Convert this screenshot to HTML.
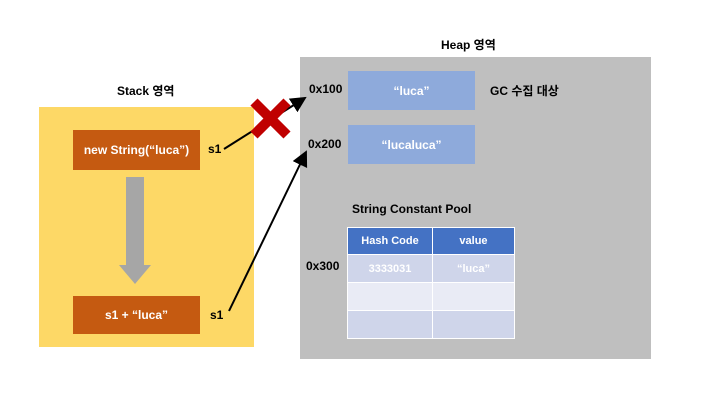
<!DOCTYPE html>
<html><head><meta charset="utf-8"><style>
body{margin:0;width:720px;height:405px;background:#fff;position:relative;overflow:hidden;font-family:"Liberation Sans","Noto Sans CJK KR",sans-serif;font-weight:bold}
div{position:absolute}
.t{font-size:12px;color:#000;white-space:nowrap}
.ob{background:#c55a11;color:#fff;font-size:12px;display:flex;align-items:center;justify-content:center}
.bb{background:#8eaadb;color:#fff;font-size:12px;display:flex;align-items:center;justify-content:center}
</style></head><body>
<div style="left:39px;top:107px;width:215px;height:240px;background:#fdd866"></div>
<div style="left:300px;top:57px;width:351px;height:302px;background:#bfbfbf"></div>
<div class="t" style="left:117px;top:82px">Stack 영역</div>
<div class="t" style="left:441px;top:36px">Heap 영역</div>
<div class="ob" style="left:73px;top:130px;width:127px;height:40px">new String(“luca”)</div>
<div class="ob" style="left:73px;top:296px;width:127px;height:38px">s1 + “luca”</div>
<div class="t" style="left:208px;top:142px">s1</div>
<div class="t" style="left:210px;top:308px">s1</div>
<div style="left:126px;top:177px;width:18px;height:88px;background:#a6a6a6"></div>
<div style="left:119px;top:265px;width:0;height:0;border-left:16px solid transparent;border-right:16px solid transparent;border-top:19px solid #a6a6a6"></div>
<div class="t" style="left:309px;top:82px">0x100</div>
<div class="t" style="left:308px;top:137px">0x200</div>
<div class="t" style="left:306px;top:259px">0x300</div>
<div class="bb" style="left:348px;top:71px;width:127px;height:39px">“luca”</div>
<div class="bb" style="left:348px;top:125px;width:127px;height:39px">“lucaluca”</div>
<div class="t" style="left:490px;top:82px">GC 수집 대상</div>
<div class="t" style="left:352px;top:202px">String Constant Pool</div>
<table style="position:absolute;left:347px;top:227px;width:168px;border-collapse:collapse;font-size:11px;color:#fff;text-align:center">
<tr style="height:27px;background:#4472c4"><td style="border:1px solid #fff;width:82px">Hash Code</td><td style="border:1px solid #fff">value</td></tr>
<tr style="height:28px;background:#cfd5ea"><td style="border:1px solid #fff">3333031</td><td style="border:1px solid #fff">“luca”</td></tr>
<tr style="height:28px;background:#e9ebf5"><td style="border:1px solid #fff"></td><td style="border:1px solid #fff"></td></tr>
<tr style="height:28px;background:#cfd5ea"><td style="border:1px solid #fff"></td><td style="border:1px solid #fff"></td></tr>
</table>
<svg width="720" height="405" style="position:absolute;left:0;top:0">
<defs><marker id="a" markerWidth="8" markerHeight="8" refX="7" refY="4" orient="auto"><path d="M0,0L8,4L0,8z" fill="#000"/></marker></defs>
<line x1="224" y1="149" x2="305" y2="98" stroke="#000" stroke-width="2" marker-end="url(#a)"/>
<line x1="229" y1="311" x2="306" y2="152" stroke="#000" stroke-width="2" marker-end="url(#a)"/>
<g stroke="#c00000" stroke-width="10"><line x1="254" y1="102" x2="287" y2="135"/><line x1="287" y1="102" x2="254" y2="135"/></g>
</svg>
</body></html>
